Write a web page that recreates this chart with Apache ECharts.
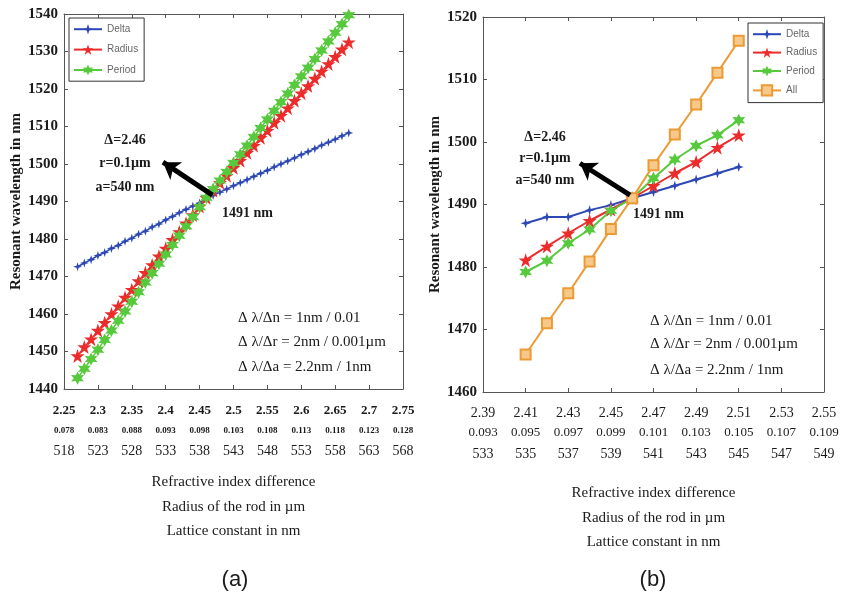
<!DOCTYPE html>
<html>
<head>
<meta charset="utf-8">
<script src="https://cdn.jsdelivr.net/npm/echarts@6/dist/echarts.min.js"></script>
<style>
  html, body { margin: 0; padding: 0; background: #fff; }
  #chart { width: 843px; height: 600px; }
</style>
</head>
<body>
<div id="chart"></div>
<script>
// ---------- panel (a): sweep over refractive index difference / rod radius / lattice constant ----------
const xA = [2.27, 2.28, 2.29, 2.30, 2.31, 2.32, 2.33, 2.34, 2.35, 2.36, 2.37, 2.38, 2.39, 2.40,
            2.41, 2.42, 2.43, 2.44, 2.45, 2.46, 2.47, 2.48, 2.49, 2.50, 2.51, 2.52, 2.53, 2.54,
            2.55, 2.56, 2.57, 2.58, 2.59, 2.60, 2.61, 2.62, 2.63, 2.64, 2.65, 2.66, 2.67];
const deltaA = [1472.6, 1473.6, 1474.5, 1475.6, 1476.4, 1477.5, 1478.3, 1479.4, 1480.2, 1481.3,
                1482.1, 1483.2, 1484.0, 1485.1, 1486.0, 1487.0, 1487.9, 1488.8, 1489.6, 1491.0,
                1491.6, 1492.5, 1493.3, 1494.2, 1495.0, 1495.8, 1496.7, 1497.5, 1498.3, 1499.2,
                1500.0, 1500.8, 1501.6, 1502.5, 1503.3, 1504.1, 1505.0, 1505.8, 1506.6, 1507.5, 1508.3];
const radiusA = [1448.8, 1451.2, 1453.3, 1455.6, 1457.7, 1460.0, 1462.1, 1464.4, 1466.5, 1468.8,
                 1471.0, 1473.1, 1475.4, 1477.5, 1479.8, 1481.9, 1484.2, 1486.4, 1488.7, 1491.0,
                 1492.9, 1495.0, 1496.9, 1499.0, 1500.9, 1503.0, 1504.9, 1507.0, 1508.9, 1511.0,
                 1512.9, 1514.9, 1516.9, 1518.9, 1520.8, 1522.8, 1524.7, 1526.7, 1528.6, 1530.6, 1532.5];
const periodA = [1442.9, 1445.4, 1448.0, 1450.5, 1453.1, 1455.6, 1458.2, 1460.7, 1463.3, 1465.8,
                 1468.4, 1470.9, 1473.4, 1475.9, 1478.4, 1480.9, 1483.4, 1485.9, 1488.5, 1491.0,
                 1493.3, 1495.6, 1497.9, 1500.3, 1502.6, 1504.9, 1507.2, 1509.6, 1511.9, 1514.2,
                 1516.5, 1518.8, 1521.1, 1523.4, 1525.7, 1528.0, 1530.3, 1532.7, 1535.0, 1537.3, 1539.7];
const ticksA_index   = ['2.25', '2.3', '2.35', '2.4', '2.45', '2.5', '2.55', '2.6', '2.65', '2.7', '2.75'];
const ticksA_radius  = ['0.078', '0.083', '0.088', '0.093', '0.098', '0.103', '0.108', '0.113', '0.118', '0.123', '0.128'];
const ticksA_lattice = ['518', '523', '528', '533', '538', '543', '548', '553', '558', '563', '568'];

// ---------- panel (b): narrower sweep, including all three parameters together ----------
const xB = [2.41, 2.42, 2.43, 2.44, 2.45, 2.46, 2.47, 2.48, 2.49, 2.50, 2.51];
const deltaB  = [1487.0, 1488.0, 1488.0, 1489.1, 1489.9, 1491.0, 1492.0, 1493.0, 1494.0, 1495.0, 1496.0];
const radiusB = [1481.1, 1483.3, 1485.4, 1487.4, 1489.2, 1491.0, 1493.0, 1495.0, 1496.8, 1499.1, 1501.1];
const periodB = [1479.2, 1481.0, 1483.8, 1486.0, 1489.0, 1491.0, 1494.2, 1497.2, 1499.4, 1501.1, 1503.5];
const allB    = [1466.0, 1471.0, 1475.8, 1480.9, 1486.1, 1491.0, 1496.3, 1501.2, 1506.0, 1511.1, 1516.2];
const ticksB_index   = ['2.39', '2.41', '2.43', '2.45', '2.47', '2.49', '2.51', '2.53', '2.55'];
const ticksB_radius  = ['0.093', '0.095', '0.097', '0.099', '0.101', '0.103', '0.105', '0.107', '0.109'];
const ticksB_lattice = ['533', '535', '537', '539', '541', '543', '545', '547', '549'];

// ---------- styling ----------
const SERIF = "'Liberation Serif', 'DejaVu Serif', serif";
const SANS = "'Liberation Sans', Arial, sans-serif";
const C_DELTA = '#2d48b5', C_RADIUS = '#ec2b2b', C_PERIOD = '#56c93c', C_ALL = '#eb9a34';
const AXIS_COLOR = '#555';
const SYM_SPARK = 'path://M50,0L62,38L100,50L62,62L50,100L38,62L0,50L38,38Z';
const SYM_PENTA = 'path://M50,0L61.8,35.1L98.8,35.1L68.9,56.8L80.3,92L50,70.2L19.7,92L31.1,56.8L1.2,35.1L38.2,35.1Z';
const SYM_HEXA = 'path://M50,0L62.5,28.3L93.3,25L75,50L93.3,75L62.5,71.7L50,100L37.5,71.7L6.7,75L25,50L6.7,25L37.5,28.3Z';

const pairs = (xs, ys) => xs.map((x, i) => [x, ys[i]]);
const tickVals = labels => labels.map(Number);

function rowLabels(r1, r2, r3) {
  const vals = tickVals(r1);
  return v => {
    const i = vals.findIndex(t => Math.abs(t - v) < 1e-6);
    if (i < 0) return '';
    return '{a|' + r1[i] + '}\n{b|' + r2[i] + '}\n{c|' + r3[i] + '}';
  };
}

function bottomAxis(grid, r1, r2, r3, rich, margin, nameGap) {
  const vals = tickVals(r1);
  return {
    type: 'value', gridIndex: grid, position: 'bottom',
    min: vals[0], max: vals[vals.length - 1],
    axisLine: { show: true, lineStyle: { color: AXIS_COLOR, width: 1 } },
    axisTick: { show: true, inside: true, length: 4, customValues: vals, lineStyle: { color: AXIS_COLOR } },
    axisLabel: { show: true, customValues: vals, margin: margin, formatter: rowLabels(r1, r2, r3), rich: rich,
                 color: '#1a1a1a', fontFamily: SERIF },
    splitLine: { show: false },
    name: 'Refractive index difference\nRadius of the rod in \u00b5m\nLattice constant in nm',
    nameLocation: 'middle', nameGap: nameGap,
    nameTextStyle: { fontFamily: SERIF, fontSize: 15, color: '#1a1a1a', lineHeight: 24.5 }
  };
}

function topAxis(grid, r1) {
  const vals = tickVals(r1);
  return {
    type: 'value', gridIndex: grid, position: 'top',
    min: vals[0], max: vals[vals.length - 1],
    axisLine: { show: true, lineStyle: { color: AXIS_COLOR, width: 1 } },
    axisTick: { show: true, inside: true, length: 4, customValues: vals, lineStyle: { color: AXIS_COLOR } },
    axisLabel: { show: false },
    splitLine: { show: false }
  };
}

function leftAxis(grid, min, max) {
  return {
    type: 'value', gridIndex: grid, position: 'left', min: min, max: max, interval: 10,
    axisLine: { show: true, lineStyle: { color: AXIS_COLOR, width: 1 } },
    axisTick: { show: true, inside: true, length: 4, lineStyle: { color: AXIS_COLOR } },
    axisLabel: { margin: 6, fontFamily: SERIF, fontSize: 15, fontWeight: 'bold', color: '#1a1a1a',
                 formatter: v => String(v) },
    splitLine: { show: false },
    name: 'Resonant wavelength in nm', nameLocation: 'middle', nameGap: 38,
    nameTextStyle: { fontFamily: SERIF, fontSize: 15, fontWeight: 'bold', color: '#1a1a1a' }
  };
}

function rightAxis(grid, min, max) {
  return {
    type: 'value', gridIndex: grid, position: 'right', min: min, max: max, interval: 10,
    axisLine: { show: true, lineStyle: { color: AXIS_COLOR, width: 1 } },
    axisTick: { show: true, inside: true, length: 4, lineStyle: { color: AXIS_COLOR } },
    axisLabel: { show: false },
    splitLine: { show: false }
  };
}

function lineSeries(name, data, axisIdx, color, symbol, size, width, extra) {
  return Object.assign({
    name: name, type: 'line', data: data,
    xAxisIndex: axisIdx, yAxisIndex: axisIdx,
    symbol: symbol, symbolSize: size, showSymbol: true,
    lineStyle: { color: color, width: width },
    itemStyle: { color: color },
    animation: false
  }, extra || {});
}

// thick black pointer from the crossing point towards the parameter note
function arrowLine(from, to) {
  return {
    silent: true, symbol: ['none', 'arrow'], symbolSize: 16,
    lineStyle: { color: '#000', width: 5, type: 'solid' },
    itemStyle: { color: '#000' },
    label: { show: false },
    emphasis: { disabled: true },
    data: [[{ coord: from }, { coord: to }]]
  };
}

const richA = {
  a: { fontFamily: SERIF, fontSize: 13, fontWeight: 'bold', color: '#1a1a1a', lineHeight: 20 },
  b: { fontFamily: SERIF, fontSize: 9, fontWeight: 'bold', color: '#1a1a1a', lineHeight: 20 },
  c: { fontFamily: SERIF, fontSize: 14, color: '#1a1a1a', lineHeight: 21 }
};
const richB = {
  a: { fontFamily: SERIF, fontSize: 14, color: '#1a1a1a', lineHeight: 20 },
  b: { fontFamily: SERIF, fontSize: 13, color: '#1a1a1a', lineHeight: 20 },
  c: { fontFamily: SERIF, fontSize: 14, color: '#1a1a1a', lineHeight: 22 }
};

function legendBox(left, top, names, gap) {
  return {
    orient: 'vertical', left: left, top: top, data: names,
    itemWidth: 28, itemHeight: 13, itemGap: gap,
    padding: [6, 6, 6, 4],
    borderColor: '#333', borderWidth: 1, backgroundColor: '#fff',
    textStyle: { fontFamily: SANS, fontSize: 10, color: '#666' },
    selectedMode: false
  };
}

function noteText(x, y, text, align, size) {
  return {
    type: 'text', x: x, y: y, silent: true,
    style: { text: text, font: (size >= 15 ? '' : 'bold ') + size + 'px ' + SERIF, fill: '#1a1a1a',
             align: align, verticalAlign: 'middle' }
  };
}

const option = {
  backgroundColor: '#fff',
  animation: false,
  grid: [
    { left: 64, top: 14, width: 339, height: 375 },
    { left: 483, top: 17, width: 341, height: 375 }
  ],
  xAxis: [
    bottomAxis(0, ticksA_index, ticksA_radius, ticksA_lattice, richA, 12, 81),
    bottomAxis(1, ticksB_index, ticksB_radius, ticksB_lattice, richB, 11, 89),
    topAxis(0, ticksA_index),
    topAxis(1, ticksB_index)
  ],
  yAxis: [
    leftAxis(0, 1440, 1540),
    leftAxis(1, 1460, 1520),
    rightAxis(0, 1440, 1540),
    rightAxis(1, 1460, 1520)
  ],
  legend: [
    legendBox(69, 18, ['Delta', 'Radius', 'Period'], 10),
    legendBox(748, 23, ['Delta', 'Radius', 'Period', 'All'], 8)
  ],
  series: [
    lineSeries('Delta', pairs(xA, deltaA), 0, C_DELTA, SYM_SPARK, 9, 1.5,
               { markLine: arrowLine([2.469, 1491.7], [2.396, 1500.5]) }),
    lineSeries('Radius', pairs(xA, radiusA), 0, C_RADIUS, SYM_PENTA, 14, 1.5),
    lineSeries('Period', pairs(xA, periodA), 0, C_PERIOD, SYM_HEXA, 13, 1.5),

    lineSeries('Delta', pairs(xB, deltaB), 1, C_DELTA, SYM_SPARK, 10, 2,
               { markLine: arrowLine([2.459, 1491.5], [2.4355, 1496.6]) }),
    lineSeries('Radius', pairs(xB, radiusB), 1, C_RADIUS, SYM_PENTA, 14, 2),
    lineSeries('Period', pairs(xB, periodB), 1, C_PERIOD, SYM_HEXA, 13, 2),
    lineSeries('All', pairs(xB, allB), 1, C_ALL, 'rect', 10, 2,
               { itemStyle: { color: '#f6c98a', borderColor: C_ALL, borderWidth: 2 } })
  ],
  graphic: [
    noteText(125, 140, '\u0394=2.46', 'center', 14),
    noteText(125, 163, 'r=0.1\u00b5m', 'center', 14),
    noteText(125, 187, 'a=540 nm', 'center', 14),
    noteText(222, 213, '1491 nm', 'left', 14),
    noteText(238, 318, '\u0394 \u03bb/\u0394n = 1nm / 0.01', 'left', 15),
    noteText(238, 342, '\u0394 \u03bb/\u0394r = 2nm / 0.001\u00b5m', 'left', 15),
    noteText(238, 367, '\u0394 \u03bb/\u0394a = 2.2nm / 1nm', 'left', 15),

    noteText(545, 137, '\u0394=2.46', 'center', 14),
    noteText(545, 158, 'r=0.1\u00b5m', 'center', 14),
    noteText(545, 180, 'a=540 nm', 'center', 14),
    noteText(633, 214, '1491 nm', 'left', 14),
    noteText(650, 321, '\u0394 \u03bb/\u0394n = 1nm / 0.01', 'left', 15),
    noteText(650, 344, '\u0394 \u03bb/\u0394r = 2nm / 0.001\u00b5m', 'left', 15),
    noteText(650, 370, '\u0394 \u03bb/\u0394a = 2.2nm / 1nm', 'left', 15),

    { type: 'text', x: 235, y: 580, silent: true,
      style: { text: '(a)', font: '22px ' + SANS, fill: '#1a1a1a', align: 'center', verticalAlign: 'middle' } },
    { type: 'text', x: 653, y: 580, silent: true,
      style: { text: '(b)', font: '22px ' + SANS, fill: '#1a1a1a', align: 'center', verticalAlign: 'middle' } }
  ]
};

const chart = echarts.init(document.getElementById('chart'), null, { renderer: 'canvas' });
chart.setOption(option);
</script>
</body>
</html>
